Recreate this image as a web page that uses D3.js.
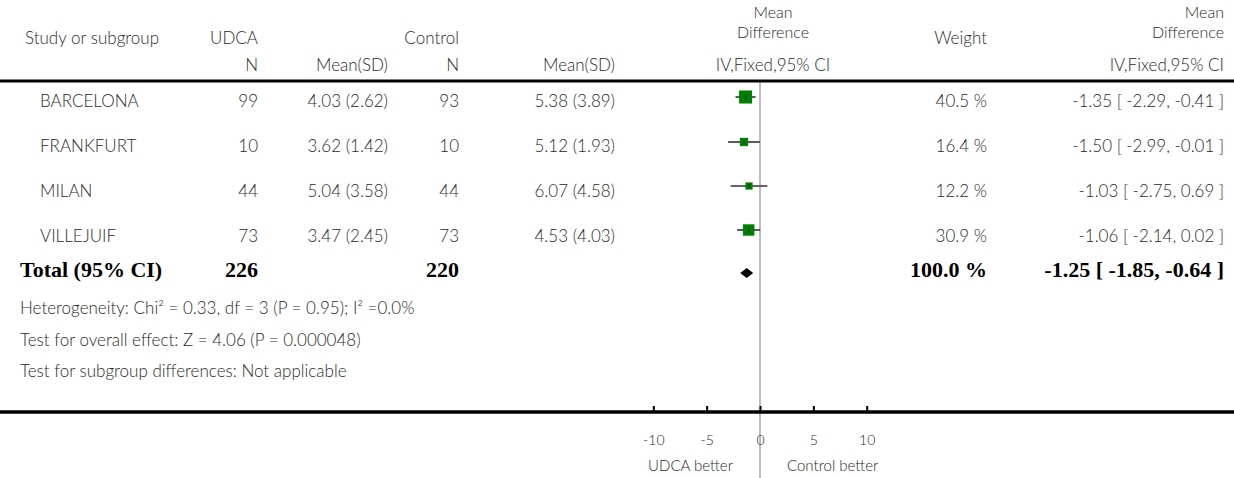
<!DOCTYPE html>
<html>
<head>
<meta charset="utf-8">
<script src="https://cdn.jsdelivr.net/npm/d3@7/dist/d3.min.js"></script>
<style>
  html, body { margin: 0; padding: 0; background: #fff; }
  svg { display: block; }
  .t { font-family: "Lato", "Open Sans", sans-serif; font-size: 17px; font-weight: 300; fill: #2a2a2a; }
  .b { font-family: "Liberation Serif", "Times New Roman", serif; font-size: 22px; font-weight: bold; fill: #000; }
  .ax text { font-family: "Lato", sans-serif; font-size: 14px; font-weight: 300; fill: #2a2a2a; }
</style>
</head>
<body>
<svg id="chart" width="1234" height="478"></svg>
<script>
// Study data
const studies   = ["BARCELONA", "FRANKFURT", "MILAN", "VILLEJUIF"];
const udcaN     = [99, 10, 44, 73];
const udcaMean  = ["4.03 (2.62)", "3.62 (1.42)", "5.04 (3.58)", "3.47 (2.45)"];
const ctrlN     = [93, 10, 44, 73];
const ctrlMean  = ["5.38 (3.89)", "5.12 (1.93)", "6.07 (4.58)", "4.53 (4.03)"];
const md        = [-1.35, -1.50, -1.03, -1.06];
const ciLow     = [-2.29, -2.99, -2.75, -2.14];
const ciHigh    = [-0.41, -0.01, 0.69, 0.02];
const weights   = [40.5, 16.4, 12.2, 30.9];

// Pooled estimate
const totalN    = [226, 220];
const totalMD   = -1.25;
const totalLow  = -1.85;
const totalHigh = -0.64;
const totalWeight = 100.0;

const axisTicks = [-10, -5, 0, 5, 10];
const footnotes = [
  "Heterogeneity: Chi² = 0.33, df = 3 (P = 0.95); I² =0.0%",
  "Test for overall effect: Z = 4.06 (P = 0.000048)",
  "Test for subgroup differences: Not applicable"
];

const svg = d3.select("#chart");
// plain hyphen for negative numbers
const locale = d3.formatLocale({ decimal: ".", thousands: ",", grouping: [3], currency: ["", ""], minus: "-" });
const fmt2 = locale.format(".2f");
const fmtInt = locale.format("d");
const fmtCI = (m, l, h) => `${fmt2(m)} [ ${fmt2(l)}, ${fmt2(h)} ]`;

// Column anchors
const col = { study: 25, studyRow: 40, uN: 258, uMean: 388, cN: 459, cMean: 615, plot: 773, weight: 987, ci: 1224 };

const x = d3.scaleLinear().domain([-10, 10]).range([653.3, 866.7]);
const size = d3.scaleSqrt().domain([0, 100]).range([0, 20.5]);

const rowY   = [107, 152, 197, 242];
const markY  = [97, 142, 186, 230];
const totalY = 277, totalMarkY = 273;
const topLineY = 81, axisY = 412;

function txt(xp, yp, s, anchor, cls) {
  return svg.append("text").attr("class", cls || "t").attr("x", xp).attr("y", yp)
    .attr("text-anchor", anchor || "start").text(s);
}

// Header
txt(col.study, 44, "Study or subgroup");
txt(col.uN, 44, "UDCA", "end");
txt(col.cN, 44, "Control", "end");
txt(col.plot, 18, "Mean", "middle").style("font-size", "16px");
txt(col.plot, 38, "Difference", "middle").style("font-size", "16px");
txt(col.weight, 44, "Weight", "end");
txt(col.ci, 18, "Mean", "end").style("font-size", "16px");
txt(col.ci, 38, "Difference", "end").style("font-size", "16px");
txt(col.uN, 71, "N", "end");
txt(col.uMean, 71, "Mean(SD)", "end");
txt(col.cN, 71, "N", "end");
txt(col.cMean, 71, "Mean(SD)", "end");
txt(col.plot, 71, "IV,Fixed,95% CI", "middle");
txt(col.ci, 71, "IV,Fixed,95% CI", "end");

// Reference line at zero
svg.append("line").attr("x1", x(0)).attr("x2", x(0))
  .attr("y1", topLineY).attr("y2", 478)
  .attr("stroke", "#bdbdbd").attr("stroke-width", 2);

// Header rule
svg.append("line").attr("x1", 0).attr("x2", 1234).attr("y1", topLineY).attr("y2", topLineY)
  .attr("stroke", "#000").attr("stroke-width", 3);

// Study rows
studies.forEach((s, i) => {
  const y = rowY[i];
  txt(col.studyRow, y, s);
  txt(col.uN, y, udcaN[i], "end");
  txt(col.uMean, y, udcaMean[i], "end");
  txt(col.cN, y, ctrlN[i], "end");
  txt(col.cMean, y, ctrlMean[i], "end");
  txt(col.weight, y, weights[i].toFixed(1) + " %", "end");
  txt(col.ci, y, fmtCI(md[i], ciLow[i], ciHigh[i]), "end");

  const my = markY[i];
  svg.append("line").attr("x1", x(ciLow[i])).attr("x2", x(ciHigh[i]))
    .attr("y1", my).attr("y2", my).attr("stroke", "#333").attr("stroke-width", 1.6);
  const s2 = size(weights[i]);
  svg.append("rect").attr("x", x(md[i]) - s2 / 2).attr("y", my - s2 / 2)
    .attr("width", s2).attr("height", s2).attr("fill", "#008000");
  svg.append("line").attr("x1", x(md[i])).attr("x2", x(md[i]))
    .attr("y1", my - 2.5).attr("y2", my + 2.5).attr("stroke", "#0a3a0a").attr("stroke-width", 1.2);
});

// Total row
txt(20, totalY, "Total (95% CI)", "start", "b");
txt(col.uN, totalY, totalN[0], "end", "b");
txt(col.cN, totalY, totalN[1], "end", "b");
txt(col.weight, totalY, totalWeight.toFixed(1) + " %", "end", "b");
txt(col.ci, totalY, fmtCI(totalMD, totalLow, totalHigh), "end", "b");

const dh = 5;
svg.append("path")
  .attr("d", `M${x(totalLow)},${totalMarkY} L${x(totalMD)},${totalMarkY - dh} L${x(totalHigh)},${totalMarkY} L${x(totalMD)},${totalMarkY + dh} Z`)
  .attr("fill", "#000");

// Footnotes
footnotes.forEach((f, i) => txt(20, 314 + i * 31.5, f));

// Axis
svg.append("line").attr("x1", 0).attr("x2", 1234).attr("y1", axisY).attr("y2", axisY)
  .attr("stroke", "#000").attr("stroke-width", 3.5);
const axis = d3.axisBottom(x).tickValues(axisTicks).tickSizeInner(-6).tickSizeOuter(0).tickPadding(23)
  .tickFormat(fmtInt);
const g = svg.append("g").attr("class", "ax").attr("transform", `translate(0,${axisY})`).call(axis);
g.select(".domain").remove();
g.selectAll(".tick line").attr("stroke", "#000").attr("stroke-width", 2);

svg.append("text").attr("class", "t").style("font-size", "15px").attr("x", 733).attr("y", 471)
  .attr("text-anchor", "end").text("UDCA better");
svg.append("text").attr("class", "t").style("font-size", "15px").attr("x", 787).attr("y", 471)
  .attr("text-anchor", "start").text("Control better");
</script>
</body>
</html>
